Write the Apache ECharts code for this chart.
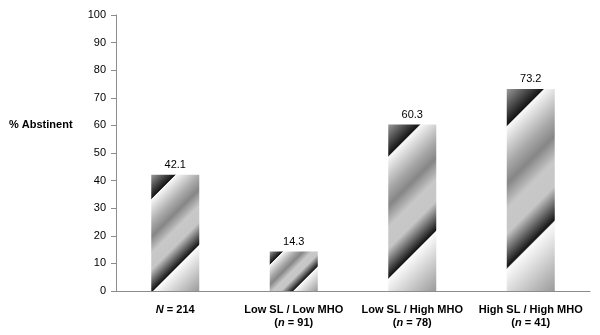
<!DOCTYPE html>
<html>
<head>
<meta charset="utf-8">
<script src="https://cdn.jsdelivr.net/npm/echarts@6/dist/echarts.min.js"></script>
<style>html,body{margin:0;padding:0;background:#fff}#c{width:600px;height:335px}</style>
</head>
<body>
<div id="c"></div>
<script>
const categories = ['N = 214', 'Low SL / Low MHO\n(n = 91)', 'Low SL / High MHO\n(n = 78)', 'High SL / High MHO\n(n = 41)'];
const values = [42.1, 14.3, 60.3, 73.2];
const yTicks = [0, 10, 20, 30, 40, 50, 60, 70, 80, 90, 100];
const yTitle = '% Abstinent';

const FONT = '"Liberation Sans", Arial, sans-serif';
const BAR_W = 48;
const stops = [
  [0, '#9a9a9a'], [0.145, '#141414'], [0.152, '#f8f8f8'], [0.30, '#a9a9a9'],
  [0.38, '#868686'], [0.48, '#c8c8c8'], [0.58, '#c6c6c6'], [0.715, '#141414'],
  [0.722, '#fbfbfb'], [1, '#9a9a9a']
];

const chart = echarts.init(document.getElementById('c'), null, {renderer: 'canvas'});

function fmtCat(v) {
  return v.split('\n').map(line => {
    const m = line.match(/^(\(?)([Nn])( = .*)$/);
    if (m) return (m[1] ? '{b|' + m[1] + '}' : '') + '{i|' + m[2] + '}{b|' + m[3] + '}';
    return '{b|' + line + '}';
  }).join('\n');
}

function buildOption(dataItems) {
  return {
    animation: false,
    grid: {left: 116, right: 10, top: 15, bottom: 44},
    graphic: [{
      type: 'text', x: 9, y: 125,
      style: {text: yTitle, font: 'bold 11px ' + FONT, fill: '#000', textAlign: 'left', textVerticalAlign: 'middle', verticalAlign: 'middle'}
    }],
    xAxis: {
      type: 'category', data: categories,
      axisLine: {lineStyle: {color: '#8c8c8c', width: 1}},
      axisTick: {show: false},
      axisLabel: {
        interval: 0, margin: 12, formatter: fmtCat, color: '#000',
        rich: {
          b: {fontFamily: FONT, fontSize: 11, fontWeight: 'bold', color: '#000', lineHeight: 13},
          i: {fontFamily: FONT, fontSize: 11, fontWeight: 'bold', fontStyle: 'italic', color: '#000', lineHeight: 13}
        }
      }
    },
    yAxis: {
      type: 'value', min: yTicks[0], max: yTicks[yTicks.length - 1], interval: 10,
      axisLine: {show: true, lineStyle: {color: '#8c8c8c', width: 1}},
      axisTick: {show: true, length: 5, lineStyle: {color: '#8c8c8c'}},
      splitLine: {show: false},
      axisLabel: {fontFamily: FONT, fontSize: 11, color: '#000', margin: 10}
    },
    series: [{
      type: 'bar', barWidth: BAR_W, data: dataItems,
      label: {show: true, position: 'top', distance: 4, fontFamily: FONT, fontSize: 11, color: '#000',
        formatter: p => p.value.toFixed(1)}
    }]
  };
}

chart.setOption(buildOption(values.slice()));
const y0 = chart.convertToPixel({yAxisIndex: 0}, 0);
const items = values.map(v => {
  const h = Math.max(1, y0 - chart.convertToPixel({yAxisIndex: 0}, v));
  const w = BAR_W;
  const t = (w + h) / 2;
  return {
    value: v,
    itemStyle: {
      color: new echarts.graphic.LinearGradient(0, 0, t / w, t / h, stops.map(s => ({offset: s[0], color: s[1]})))
    }
  };
});
chart.setOption(buildOption(items));
</script>
</body>
</html>
